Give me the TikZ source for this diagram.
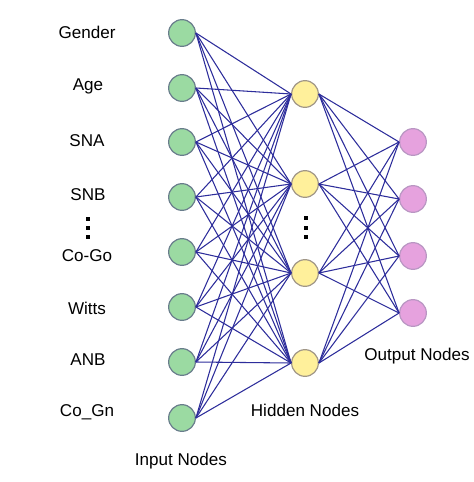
\documentclass[tikz,border=0pt]{standalone}
\usepackage{fontspec}
\setmainfont{Liberation Sans}
\definecolor{inGreen}{RGB}{155,218,162}
\definecolor{inEdge}{RGB}{105,125,140}
\definecolor{hidYellow}{RGB}{255,240,155}
\definecolor{hidEdge}{RGB}{160,150,135}
\definecolor{outPink}{RGB}{230,162,222}
\definecolor{outEdge}{RGB}{185,150,195}
\definecolor{linkBlue}{RGB}{45,45,155}
\tikzset{every picture/.style={line width=0.75pt}}
\tikzset{
  inNode/.style={circle, draw=inEdge, fill=inGreen, minimum size=20pt, inner sep=0pt, line width=0.9pt},
  hidNode/.style={circle, draw=hidEdge, fill=hidYellow, minimum size=20pt, inner sep=0pt, line width=0.9pt},
  outNode/.style={circle, draw=outEdge, fill=outPink, minimum size=20pt, inner sep=0pt, line width=0.9pt},
  link/.style={draw=linkBlue, line width=0.8pt},
  lbl/.style={inner sep=0.75pt, font=\fontsize{12.8}{15}\selectfont},
  vdot/.style={rectangle, fill=black, minimum size=3pt, inner sep=0pt}
}

\begin{document}
\begin{tikzpicture}[x=0.75pt,y=0.75pt,yscale=-1,xscale=1]
\useasboundingbox (0,0) rectangle (474,482);

%Shape: Circle [input layer]
\node [inNode] (in1) at (182,33) {};
\node [inNode] (in2) at (182,88) {};
\node [inNode] (in3) at (182,142) {};
\node [inNode] (in4) at (182,197) {};
\node [inNode] (in5) at (182,252) {};
\node [inNode] (in6) at (182,307) {};
\node [inNode] (in7) at (182,362) {};
\node [inNode] (in8) at (182,418) {};

%Shape: Circle [hidden layer]
\node [hidNode] (hid1) at (305,94) {};
\node [hidNode] (hid2) at (305,184) {};
\node [hidNode] (hid3) at (305,273) {};
\node [hidNode] (hid4) at (305,363) {};

%Shape: Circle [output layer]
\node [outNode] (out1) at (413,142) {};
\node [outNode] (out2) at (413,199) {};
\node [outNode] (out3) at (413,256) {};
\node [outNode] (out4) at (413,313) {};

%Straight Lines [links]
\foreach \i in {1,...,8}
  \foreach \j in {1,...,4}
    \draw [link] (in\i.east) -- (hid\j.west) ;
\foreach \j in {1,...,4}
  \foreach \k in {1,...,4}
    \draw [link] (hid\j.east) -- (out\k.west) ;

%Dots
\node [vdot] (idot1) at (88,219) {};
\node [vdot] (idot2) at (88,228) {};
\node [vdot] (idot3) at (88,237) {};
\node [vdot] (hdot1) at (306,218) {};
\node [vdot] (hdot2) at (306,228) {};
\node [vdot] (hdot3) at (306,237) {};

% Text Node
\node [lbl] (tGender) at (87,32) {Gender};
% Text Node
\node [lbl] (tAge) at (88,86) {Age};
% Text Node
\node [lbl] (tSNA) at (87,141) {SNA};
% Text Node
\node [lbl] (tSNB) at (88,195) {SNB};
% Text Node
\node [lbl] (tCoGo) at (87,256) {Co-Go};
% Text Node
\node [lbl] (tWitts) at (87,308) {Witts};
% Text Node
\node [lbl] (tANB) at (88,360) {ANB};
% Text Node
\node [lbl] (tCoGn) at (87,412) {Co\_Gn};
% Text Node
\node [lbl] (tInput) at (181,461) {Input Nodes};
% Text Node
\node [lbl] (tHidden) at (305,410) {Hidden Nodes};
% Text Node
\node [lbl] (tOutput) at (417,356) {Output Nodes};

\end{tikzpicture}
\end{document}
